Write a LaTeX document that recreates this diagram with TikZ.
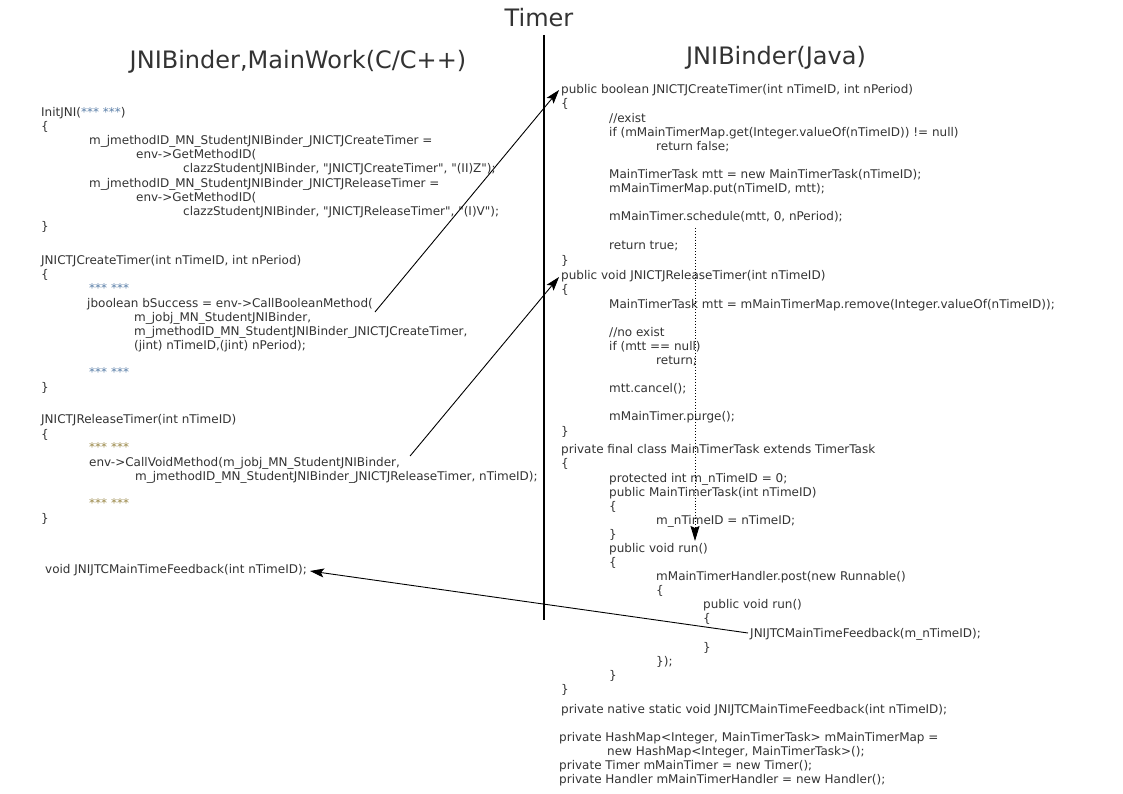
\documentclass[tikz,border=0pt]{standalone}
\usepackage{fontspec}
\setmainfont{DejaVu Sans}[Ligatures=TeXOff]
\usetikzlibrary{arrows.meta}
\definecolor{codegray}{HTML}{333333}
\definecolor{starblue}{HTML}{5A7FA8}
\definecolor{starolive}{HTML}{9A8848}
\tikzset{
  code/.style={anchor=base west, inner sep=0pt, font=\fontsize{12}{14}\selectfont, text=codegray},
  ttl/.style={anchor=base, inner sep=0pt, font=\fontsize{24}{28}\selectfont, text=codegray},
  arr/.style={draw=black, line width=0.9pt, -{Stealth[length=14pt,width=9pt,inset=3pt]}},
  dotarr/.style={draw=black, line width=0.9pt, dotted, -{Stealth[length=15pt,width=9pt,inset=2pt]}},
  divider/.style={draw=black, line width=1.3pt}
}
\begin{document}
\begin{tikzpicture}[x=1pt,y=-1pt]
\useasboundingbox[fill=white] (0,0) rectangle (1123,794);
% titles
\node[ttl] (tTimer) at (539,27) {Timer};
\node[ttl] (tLeft) at (298,69) {JNIBinder,MainWork(C/C++)};
\node[ttl] (tRight) at (776,65) {JNIBinder(Java)};
% divider
\coordinate (v1) at (544,35);
\coordinate (v2) at (544,620);
\draw[divider] (v1) -- (v2);
% left code
\node[code] (l1) at (41,117) {InitJNI(\textcolor{starblue}{*** ***})};
\node[code] (l2) at (41,131) {\{};
\node[code] (l3) at (89,145) {m\_jmethodID\_MN\_StudentJNIBinder\_JNICTJCreateTimer =};
\node[code] (l4) at (136,159) {env->GetMethodID(};
\node[code] (l5) at (183,173) {clazzStudentJNIBinder, "JNICTJCreateTimer", "(II)Z");};
\node[code] (l6) at (89,188) {m\_jmethodID\_MN\_StudentJNIBinder\_JNICTJReleaseTimer =};
\node[code] (l7) at (136,202) {env->GetMethodID(};
\node[code] (l8) at (183,216) {clazzStudentJNIBinder, "JNICTJReleaseTimer", "(I)V");};
\node[code] (l9) at (41,230) {\}};
\node[code] (l10) at (41,264) {JNICTJCreateTimer(int nTimeID, int nPeriod)};
\node[code] (l11) at (41,278) {\{};
\node[code] (l12) at (89,292) {\textcolor{starblue}{*** ***}};
\node[code] (jb) at (87,307) {jboolean bSuccess = env->CallBooleanMethod(};
\node[code] (l14) at (134,321) {m\_jobj\_MN\_StudentJNIBinder,};
\node[code] (l15) at (134,335) {m\_jmethodID\_MN\_StudentJNIBinder\_JNICTJCreateTimer,};
\node[code] (l16) at (134,349) {(jint) nTimeID,(jint) nPeriod);};
\node[code] (l17) at (89,376) {\textcolor{starblue}{*** ***}};
\node[code] (l18) at (41,391) {\}};
\node[code] (l19) at (41,423) {JNICTJReleaseTimer(int nTimeID)};
\node[code] (l20) at (41,438) {\{};
\node[code] (l21) at (89,451) {\textcolor{starolive}{*** ***}};
\node[code] (cv) at (89,466) {env->CallVoidMethod(m\_jobj\_MN\_StudentJNIBinder,};
\node[code] (l23) at (135,480) {m\_jmethodID\_MN\_StudentJNIBinder\_JNICTJReleaseTimer, nTimeID);};
\node[code] (l24) at (89,507) {\textcolor{starolive}{*** ***}};
\node[code] (l25) at (41,522) {\}};
\node[code] (lfb) at (45,573) {void JNIJTCMainTimeFeedback(int nTimeID);};
% right code
\node[code] (r1) at (561,94) {public boolean JNICTJCreateTimer(int nTimeID, int nPeriod)};
\node[code] (r2) at (561,108) {\{};
\node[code] (r3) at (609,123) {//exist};
\node[code] (r4) at (609,137) {if (mMainTimerMap.get(Integer.valueOf(nTimeID)) != null)};
\node[code] (r5) at (656,151) {return false;};
\node[code] (r6) at (609,179) {MainTimerTask mtt = new MainTimerTask(nTimeID);};
\node[code] (r7) at (609,193) {mMainTimerMap.put(nTimeID, mtt);};
\node[code] (r8) at (609,221) {mMainTimer.schedule(mtt, 0, nPeriod);};
\node[code] (r9) at (609,249) {return true;};
\node[code] (r10) at (561,264) {\}};
\node[code] (r11) at (561,279) {public void JNICTJReleaseTimer(int nTimeID)};
\node[code] (r12) at (561,293) {\{};
\node[code] (r13) at (609,308) {MainTimerTask mtt = mMainTimerMap.remove(Integer.valueOf(nTimeID));};
\node[code] (r14) at (609,336) {//no exist};
\node[code] (r15) at (609,350) {if (mtt == null)};
\node[code] (r16) at (656,364) {return;};
\node[code] (r17) at (609,392) {mtt.cancel();};
\node[code] (r18) at (609,420) {mMainTimer.purge();};
\node[code] (r19) at (561,435) {\}};
\node[code] (r20) at (561,453) {private final class MainTimerTask extends TimerTask};
\node[code] (r21) at (561,467) {\{};
\node[code] (r22) at (609,482) {protected int m\_nTimeID = 0;};
\node[code] (r23) at (609,496) {public MainTimerTask(int nTimeID)};
\node[code] (r24) at (609,510) {\{};
\node[code] (r25) at (656,524) {m\_nTimeID = nTimeID;};
\node[code] (r26) at (609,538) {\}};
\node[code] (r27) at (609,552) {public void run()};
\node[code] (r28) at (609,566) {\{};
\node[code] (r29) at (656,580) {mMainTimerHandler.post(new Runnable()};
\node[code] (r30) at (656,594) {\{};
\node[code] (r31) at (703,608) {public void run()};
\node[code] (r32) at (703,622) {\{};
\node[code] (rfb) at (750,637) {JNIJTCMainTimeFeedback(m\_nTimeID);};
\node[code] (r34) at (703,651) {\}};
\node[code] (r35) at (656,665) {\});};
\node[code] (r36) at (609,679) {\}};
\node[code] (r37) at (561,693) {\}};
\node[code] (r38) at (561,713) {private native static void JNIJTCMainTimeFeedback(int nTimeID);};
\node[code] (r39) at (559,741) {private HashMap<Integer, MainTimerTask> mMainTimerMap =};
\node[code] (r40) at (607,755) {new HashMap<Integer, MainTimerTask>();};
\node[code] (r41) at (559,769) {private Timer mMainTimer = new Timer();};
\node[code] (r42) at (559,783) {private Handler mMainTimerHandler = new Handler();};
% connectors
\draw[arr] ([shift={(2pt,-5pt)}]jb.base east) -- ([shift={(-2pt,4pt)}]r1.base west);
\draw[arr] ([shift={(10pt,10pt)}]cv.base east) -- ([shift={(-2pt,2pt)}]r11.base west);
\draw[arr] ([shift={(-2pt,4pt)}]rfb.base west) -- ([shift={(3pt,2pt)}]lfb.base east);
\coordinate (d1) at (695,228);
\coordinate (d2) at (695,541);
\draw[dotarr] (d1) -- (d2);
\end{tikzpicture}
\end{document}
